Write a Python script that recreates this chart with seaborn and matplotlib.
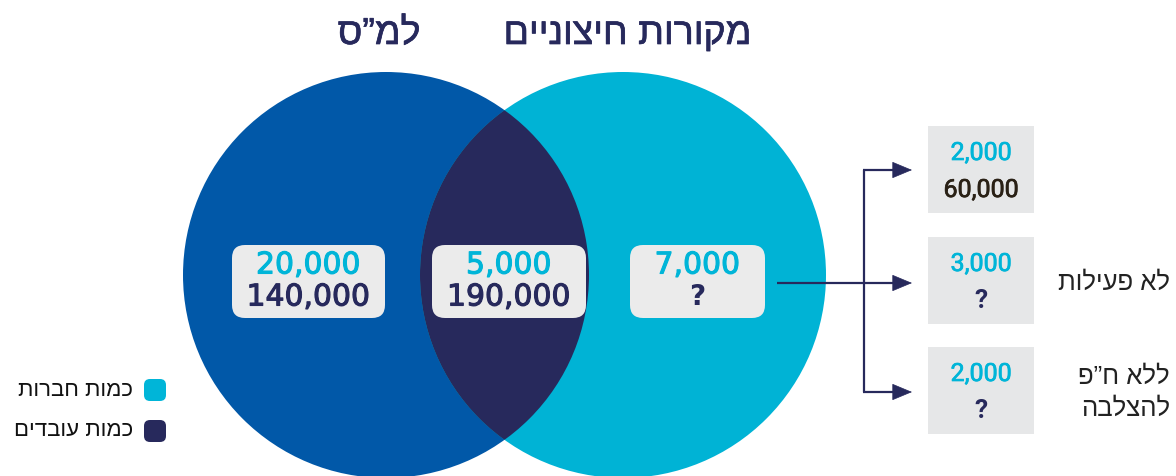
import matplotlib
matplotlib.use('Agg')
import matplotlib.pyplot as plt
import matplotlib.patheffects as pe
import seaborn as sns
import numpy as np
from matplotlib.patches import Circle, FancyBboxPatch, FancyArrowPatch

# --- data -----------------------------------------------------------
set_titles = ['למ”ס', 'מקורות חיצוניים']
region_companies = [20000, 5000, 7000]          # left only, overlap, right only
region_employees = [140000, 190000, None]       # None -> unknown
branch_companies = [2000, 3000, 2000]
branch_employees = [60000, None, None]
branch_labels = ['', 'לא פעילות', 'ללא ח”פ\nלהצלבה']
legend_labels = ['כמות חברות', 'כמות עובדים']

# --- style ----------------------------------------------------------
sns.set_theme(style='white')
HEB = ['Liberation Sans', 'DejaVu Sans']
plt.rcParams['font.family'] = HEB

C_LEFT = '#0158A8'
C_RIGHT = '#00B3D5'
C_NAVY = '#27295C'
C_CYAN = '#00B5D8'
C_BOX = '#EBEBEB'
C_BOX2 = '#E6E7E8'


def rtl(s):
    # matplotlib draws left to right, so flip each Hebrew line
    return '\n'.join(line[::-1] for line in s.split('\n'))


def fmt(v):
    return '?' if v is None else f'{v:,}'


def thick(c, w=0.8):
    return [pe.withStroke(linewidth=w, foreground=c)]


fig, ax = plt.subplots(figsize=(11.76, 4.76), dpi=100)
ax.set_position([0, 0, 1, 1])
ax.set_xlim(0, 1176)
ax.set_ylim(476, 0)
ax.set_aspect('equal')
ax.axis('off')

# Venn circles
cy, r = 275, 203
cx_left, cx_right = 386, 623
left = Circle((cx_left, cy), r, color=C_LEFT, lw=0)
right = Circle((cx_right, cy), r, color=C_RIGHT, lw=0)
ax.add_patch(left)
ax.add_patch(right)
lens = Circle((cx_right, cy), r, color=C_NAVY, lw=0)
ax.add_patch(lens)
lens.set_clip_path(Circle((cx_left, cy), r, transform=ax.transData))

# titles
for x, t in zip([379, 627], set_titles):
    ax.text(x, 34, rtl(t), ha='center', va='center', fontsize=27,
            color=C_NAVY, path_effects=thick(C_NAVY, 0.5))

# region boxes
box_x = [232, 432, 630]
box_w = [153, 154, 135]
for x, w, c, e in zip(box_x, box_w, region_companies, region_employees):
    ax.add_patch(FancyBboxPatch((x, 245), w, 73,
                                boxstyle='round,pad=0,rounding_size=13',
                                fc=C_BOX, ec='none'))
    cx = x + w / 2
    ax.text(cx, 265, fmt(c), ha='center', va='center', fontsize=21.5,
            color=C_CYAN, family='DejaVu Sans', path_effects=thick(C_CYAN))
    if e is None:
        ax.text(cx, 297, '?', ha='center', va='center', fontsize=20,
                fontweight='bold', color=C_NAVY, family='DejaVu Sans')
    else:
        ax.text(cx, 297, fmt(e), ha='center', va='center', fontsize=21.5,
                color=C_NAVY, family='DejaVu Sans', path_effects=thick(C_NAVY))

# arrows
arrow_y = [170, 283, 392]
lw = 1.6
ax.plot([777, 864], [283, 283], color=C_NAVY, lw=lw, solid_capstyle='butt')
ax.plot([864, 864], [arrow_y[0], arrow_y[-1]], color=C_NAVY, lw=lw)
for y in arrow_y:
    ax.plot([863, 900], [y, y], color=C_NAVY, lw=lw, solid_capstyle='butt')
    ax.add_patch(FancyArrowPatch((890, y), (912, y),
                                 arrowstyle='-|>,head_length=1.2,head_width=0.5',
                                 mutation_scale=11, color=C_NAVY, lw=0.5,
                                 shrinkA=0, shrinkB=0))

# branch boxes
branch_top = [126, 237, 347]
for top, c, e, lab in zip(branch_top, branch_companies, branch_employees,
                          branch_labels):
    ax.add_patch(FancyBboxPatch((928, top), 106, 87,
                                boxstyle='square,pad=0', fc=C_BOX2, ec='none'))
    ax.text(981, top + 27, fmt(c), ha='center', va='center', fontsize=18,
            color=C_CYAN, family='Roboto', path_effects=thick(C_CYAN, 0.5))
    if e is None:
        ax.text(981, top + 64, '?', ha='center', va='center', fontsize=19,
                fontweight='bold', color=C_NAVY, family='Roboto')
    else:
        ax.text(981, top + 64, fmt(e), ha='center', va='center', fontsize=18,
                color='#2A2116', family='Roboto',
                path_effects=thick('#2A2116', 0.5))
    if lab:
        ax.text(1170, top + 46, rtl(lab), ha='right', va='center',
                fontsize=18.5, color='#222222', linespacing=1.45)

# legend
leg_y = [390, 431]
leg_c = [C_CYAN, C_NAVY]
for y, c, lab in zip(leg_y, leg_c, legend_labels):
    ax.add_patch(FancyBboxPatch((144, y - 11), 22, 22,
                                boxstyle='round,pad=0,rounding_size=6',
                                fc=c, ec='none'))
    ax.text(133, y, rtl(lab), ha='right', va='center', fontsize=16,
            color='#111111')

plt.savefig('out.png', dpi=100)
plt.close()
